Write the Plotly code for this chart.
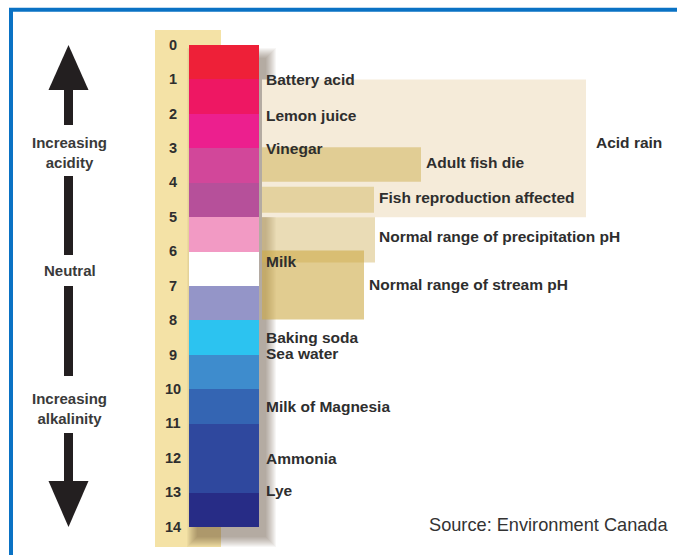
import plotly.graph_objects as go

# ---------------- data ----------------
ph_ticks = list(range(15))

seg_start = [0, 1, 2, 3, 4, 5, 6, 7, 8, 9, 10, 11, 13]
seg_end = [1, 2, 3, 4, 5, 6, 7, 8, 9, 10, 11, 13, 14]
seg_colors = ["#EE2038", "#EE1763", "#EC1F8E", "#D2479A", "#B6509A", "#F29AC4",
              "#FFFFFF", "#9495C8", "#2CC3F0", "#3E8CCD", "#3465B3", "#2F489E", "#272C86"]

subst_names = ["Battery acid", "Lemon juice", "Vinegar", "Milk", "Baking soda",
               "Sea water", "Milk of Magnesia", "Ammonia", "Lye"]
subst_ph = [1.0, 2.05, 3.0, 6.3, 8.5, 8.95, 10.5, 12.0, 12.95]

band_names = ["Acid rain", "Normal range of precipitation pH", "Normal range of stream pH",
              "Adult fish die", "Fish reproduction affected"]
band_lo = [1.0, 5.0, 5.97, 2.97, 4.12]
band_hi = [5.0, 6.32, 7.97, 3.97, 4.87]
band_label_ph = [2.84, 5.55, 6.97, 3.42, 4.42]

# ---------------- styles / layout ----------------
W, H = 677, 555
PX0, PXU = 45.0, 34.43          # pixel row of pH 0, pixels per pH unit
band_right = [586, 375, 364, 421, 374]
band_colors = ["#F5EBD9", "rgba(214,186,110,0.5)", "rgba(205,170,70,0.6)", "#E1CD94", "#E4D29F"]
band_label_x = [594, 377, 367, 424, 377]
FONT = "Liberation Sans, Arial, sans-serif"
TXT = "#2E2E2E"


def yp(py):
    return 1 - py / H


def xp(px):
    return px / W


shapes = []
# tan number column
shapes.append(dict(type="rect", xref="x", yref="paper", x0=155, x1=221, y0=yp(30), y1=yp(547),
                   fillcolor="#F4E2A6", line=dict(width=0), layer="below"))
# bands (pH ranges)
for lo, hi, xr, c in zip(band_lo, band_hi, band_right, band_colors):
    shapes.append(dict(type="rect", xref="x", yref="y", x0=262, x1=xr, y0=lo, y1=hi,
                       fillcolor=c, line=dict(width=0), layer="below"))
# soft drop shadow of the colour bar
for k in range(11):
    shapes.append(dict(type="rect", xref="x", yref="paper", x0=197 - k, x1=266 + k,
                       y0=yp(58 - k), y1=yp(537 + k),
                       fillcolor="rgba(60,50,30,0.045)", line=dict(width=0), layer="below"))
# blue frame
shapes.append(dict(type="line", xref="paper", yref="paper", x0=xp(11), x1=xp(11), y0=yp(8), y1=yp(560),
                   line=dict(color="#0A72C4", width=4)))
shapes.append(dict(type="line", xref="paper", yref="paper", x0=xp(9), x1=xp(690), y0=yp(9.75), y1=yp(9.75),
                   line=dict(color="#0A72C4", width=4)))


def poly(pts):
    return "M " + " L ".join(f"{xp(a):.5f},{yp(b):.5f}" for a, b in pts) + " Z"


ARROW = "#231F20"
cx = 68.5
# up arrow head & down arrow head
shapes.append(dict(type="path", xref="paper", yref="paper",
                   path=poly([(cx, 45), (cx + 20, 90), (cx - 20, 90)]),
                   fillcolor=ARROW, line=dict(width=0)))
shapes.append(dict(type="path", xref="paper", yref="paper",
                   path=poly([(cx, 527), (cx + 20, 481), (cx - 20, 481)]),
                   fillcolor=ARROW, line=dict(width=0)))
for a, b in [(88, 125), (176, 255), (286, 376), (433, 483)]:
    shapes.append(dict(type="rect", xref="paper", yref="paper", x0=xp(cx - 4.5), x1=xp(cx + 4.5),
                       y0=yp(a), y1=yp(b), fillcolor=ARROW, line=dict(width=0)))

fig = go.Figure()

# colour segments of the pH scale
fig.add_trace(go.Bar(
    x=[224] * len(seg_start), width=[70] * len(seg_start),
    base=seg_start, y=[e - s for s, e in zip(seg_start, seg_end)],
    marker=dict(color=seg_colors, line=dict(width=0)),
    hoverinfo="skip", showlegend=False))

# pH numbers
fig.add_trace(go.Scatter(
    x=[173] * len(ph_ticks), y=[v + 0.03 for v in ph_ticks], mode="text",
    text=[f"<b>{v}</b>" for v in ph_ticks], textposition="middle center",
    textfont=dict(family=FONT, size=14.5, color=TXT),
    hoverinfo="skip", showlegend=False))

annotations = []
for name, ph in zip(subst_names, subst_ph):
    annotations.append(dict(x=264, y=ph, xref="x", yref="y", text=f"<b>{name}</b>",
                            showarrow=False, xanchor="left", yanchor="middle",
                            font=dict(family=FONT, size=15.5, color=TXT)))
for name, ph, lx in zip(band_names, band_label_ph, band_label_x):
    annotations.append(dict(x=lx, y=ph, xref="x", yref="y", text=f"<b>{name}</b>",
                            showarrow=False, xanchor="left", yanchor="middle",
                            font=dict(family=FONT, size=15.5, color=TXT)))
for txt, py in [("Increasing<br>acidity", 152), ("Neutral", 270), ("Increasing<br>alkalinity", 408)]:
    annotations.append(dict(x=cx + 1, y=yp(py), xref="x", yref="paper", text=f"<b>{txt}</b>",
                            showarrow=False, xanchor="center", yanchor="middle",
                            font=dict(family=FONT, size=15, color="#3A3A3A")))
annotations.append(dict(x=670, y=yp(525), xref="x", yref="paper", text="Source: Environment Canada",
                        showarrow=False, xanchor="right", yanchor="middle",
                        font=dict(family=FONT, size=18.2, color="#333333")))

fig.update_layout(
    width=W, height=H, margin=dict(l=0, r=0, t=0, b=0),
    paper_bgcolor="white", plot_bgcolor="white",
    xaxis=dict(range=[0, W], visible=False, fixedrange=True),
    yaxis=dict(range=[(H - PX0) / PXU, -PX0 / PXU], visible=False, fixedrange=True),
    shapes=shapes, annotations=annotations, showlegend=False, bargap=0,
)

fig.write_html("out.html", config={"displayModeBar": False},
               post_script="document.body.style.margin='0px';document.body.style.overflow='hidden';")
